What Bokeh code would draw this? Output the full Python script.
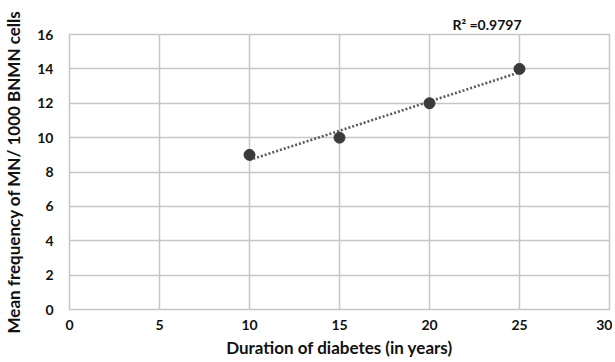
import numpy as np
from bokeh.plotting import figure
from bokeh.models import FixedTicker, Range1d
from bokeh.embed import file_html
from bokeh.resources import INLINE

# Data
duration = [10, 15, 20, 25]
mn_freq = [9, 10, 12, 14]
x_ticks = [0, 5, 10, 15, 20, 25, 30]
y_ticks = [0, 2, 4, 6, 8, 10, 12, 14, 16]
r2_text = "R\u00b2 =0.9797"

FONT = "Lato"

p = figure(width=612, height=360, output_backend="svg", toolbar_location=None,
           x_range=Range1d(0, 30), y_range=Range1d(0, 16),
           title=r2_text,
           min_border_left=67, min_border_right=3, min_border_top=34, min_border_bottom=46)

p.title.align = "right"
p.title.offset = 88
p.title.text_font = FONT
p.title.text_font_style = "bold"
p.title.text_font_size = "14px"
p.title.text_color = "#111111"
p.title.standoff = 4

# linear trendline (least squares fit of the data)
xa = np.array(duration, dtype=float)
ya = np.array(mn_freq, dtype=float)
slope, intercept = np.polyfit(xa, ya, 1)
tx = [min(duration), max(duration)]
ty = [slope * v + intercept for v in tx]
p.line(tx, ty, line_color="#5a5a5a", line_width=2.6, line_dash="2 2")

p.scatter(duration, mn_freq, size=11, fill_color="#3a3a3a", line_color="#3a3a3a")

p.outline_line_color = "#c6c6c6"
p.outline_line_width = 1.5
for ax in (p.xaxis[0], p.yaxis[0]):
    ax.axis_line_color = None
    ax.major_tick_line_color = None
    ax.minor_tick_line_color = None
    ax.major_label_text_font = FONT
    ax.major_label_text_font_style = "bold"
    ax.major_label_text_font_size = "14px"
    ax.major_label_text_color = "#111111"
    ax.axis_label_text_font = FONT
    ax.axis_label_text_font_style = "bold"
    ax.axis_label_text_font_size = "17px"
    ax.axis_label_text_color = "#111111"

p.xaxis.ticker = FixedTicker(ticks=x_ticks)
p.yaxis.ticker = FixedTicker(ticks=y_ticks)
p.xaxis.axis_label = "Duration of diabetes (in years)"
p.yaxis.axis_label = "Mean frequency of MN/ 1000 BNMN cells"
p.xaxis.major_label_standoff = 4
p.yaxis.major_label_standoff = 10
p.xaxis.axis_label_standoff = 4
p.yaxis.axis_label_standoff = 10

p.xgrid.ticker = FixedTicker(ticks=x_ticks)
p.ygrid.ticker = FixedTicker(ticks=y_ticks)
p.xgrid.grid_line_color = "#c6c6c6"
p.ygrid.grid_line_color = "#c6c6c6"
p.xgrid.grid_line_width = 1.5
p.ygrid.grid_line_width = 1.5

open("out.html", "w").write(file_html(p, INLINE))
